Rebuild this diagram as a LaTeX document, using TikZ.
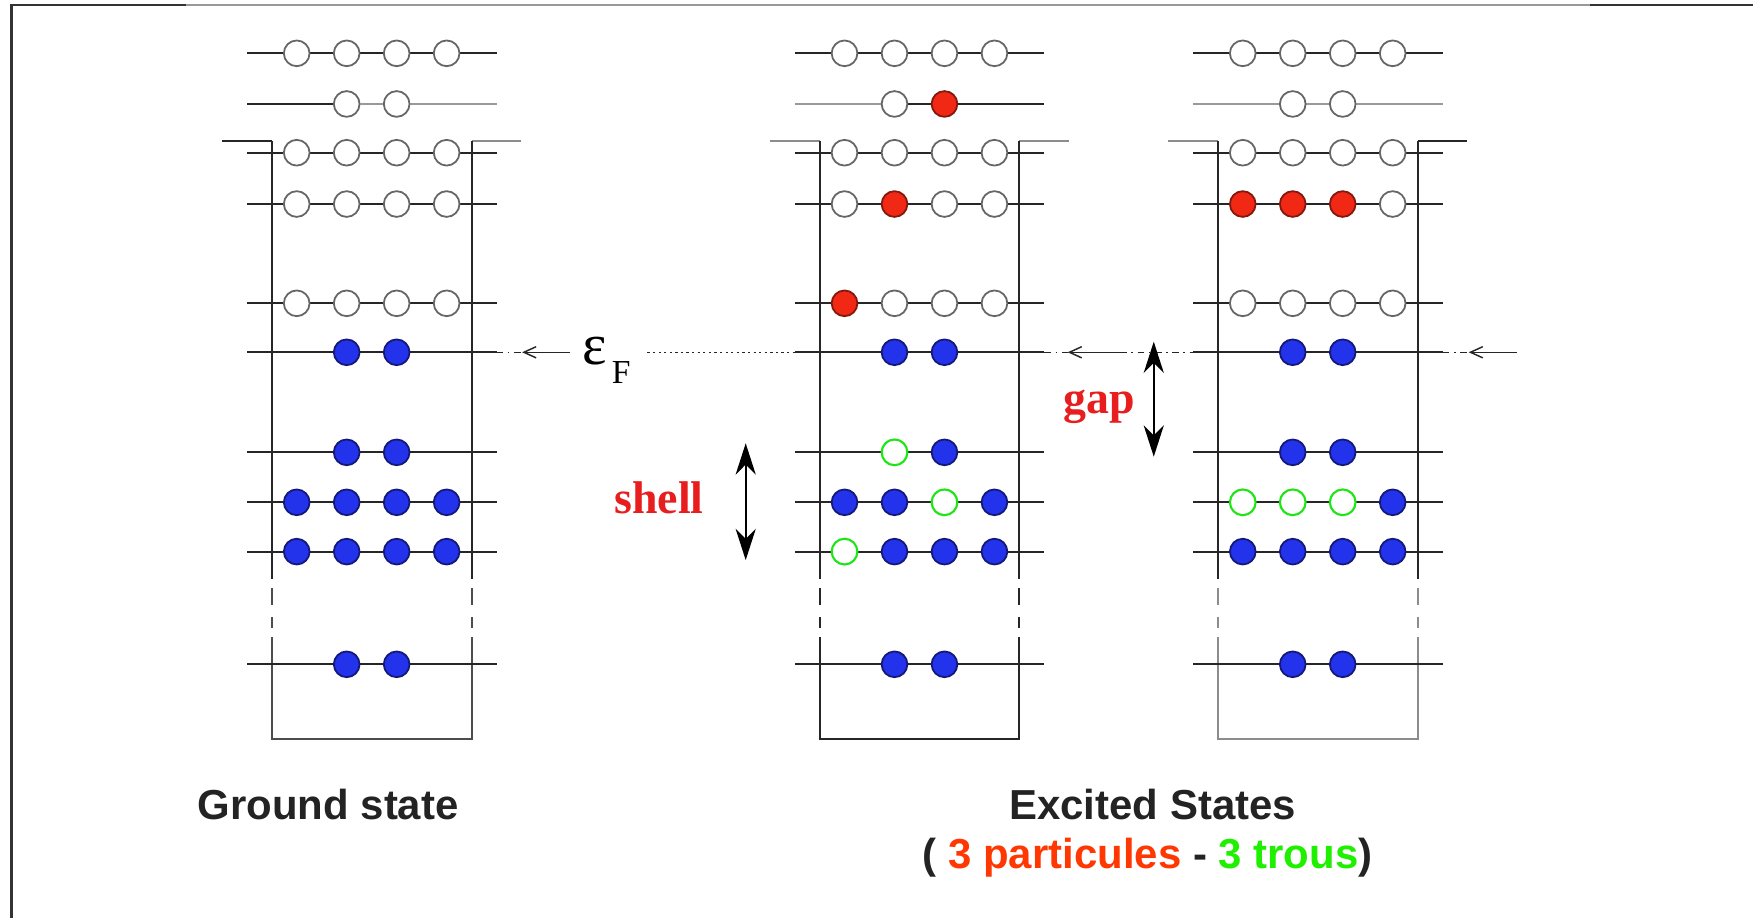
\documentclass[tikz,border=0pt]{standalone}
\usepackage{fontspec}
\setmainfont{Liberation Serif}
\newfontfamily\capfont{Liberation Sans}
\usetikzlibrary{arrows.meta}
\definecolor{bfill}{RGB}{35,50,235}
\definecolor{bdraw}{RGB}{20,25,120}
\definecolor{rfill}{RGB}{240,40,20}
\definecolor{rdraw}{RGB}{130,25,15}
\definecolor{hgreen}{RGB}{30,230,20}
\definecolor{lab}{RGB}{232,30,30}
\definecolor{tred}{RGB}{255,55,0}
\definecolor{tgreen}{RGB}{30,240,0}
\definecolor{dk}{RGB}{35,35,35}
\def\nonemark{n}
\newcommand\dotat[4]{\def\tmpkind{#1}\ifx\tmpkind\nonemark\else\node[#1] (#2) at ({#3},{#4}) {};\fi}
\newcommand\lvl[8]{%
  \draw[#4] ({#2-44.3},#3) -- ({#2+178.8},#3);
  \dotat{#5}{c#1-1}{#2}{#3}%
  \dotat{#6}{c#1-2}{#2+44.7}{#3}%
  \dotat{#7}{c#1-3}{#2+89.4}{#3}%
  \dotat{#8}{c#1-4}{#2+134.1}{#3}%
}
\newcommand\pit[6]{% #1 base x, #2 left ledge style, #3 right ledge style, #4 left wall, #5 right wall, #6 lower part
  \draw[#2] ({#1-66.6},126) -- ({#1-22.3},126);
  \draw[#3] ({#1+156.4},126) -- ({#1+201},126);
  \draw[#4] ({#1-22.3},126) -- ({#1-22.3},518);
  \draw[#5] ({#1+156.4},126) -- ({#1+156.4},518);
  \draw[#6] ({#1-22.3},526) -- ({#1-22.3},541) ({#1-22.3},552) -- ({#1-22.3},562)
            ({#1+156.4},526) -- ({#1+156.4},541) ({#1+156.4},552) -- ({#1+156.4},562);
  \draw[#6] ({#1-22.3},570) -- ({#1-22.3},661.3) -- ({#1+156.4},661.3) -- ({#1+156.4},570);
}
\tikzset{
  lev/.style={draw=black!85, line width=1.7pt},
  levg/.style={draw=black!40, line width=1.7pt},
  wd/.style={draw=black!85, line width=1.7pt},
  wg/.style={draw=black!45, line width=1.7pt},
  elec/.style={circle, inner sep=0pt, minimum size=23pt, line width=1.6pt},
  oc/.style={elec, draw=black!60, fill=white},
  bc/.style={elec, draw=bdraw, fill=bfill},
  rc/.style={elec, draw=rdraw, fill=rfill},
  gc/.style={elec, draw=hgreen, fill=white, line width=1.9pt},
  fdash/.style={line width=1.3pt, draw=black!85, dash pattern=on 6pt off 4pt on 1.5pt off 4pt},
  fdot/.style={line width=1.3pt, draw=black!85, dash pattern=on 2pt off 3pt},
  farrow/.style={line width=1.3pt, draw=black!85, arrows={Straight Barb[length=11pt,width=10pt]-}},
  dbl/.style={line width=1.8pt, arrows={Stealth[length=28pt,width=18pt,inset=9pt]-Stealth[length=28pt,width=18pt,inset=9pt]}},
  lbltxt/.style={font=\fontsize{41}{41}\selectfont\bfseries, text=lab, inner sep=0pt},
  captxt/.style={font=\capfont\fontsize{37.5}{40}\selectfont\bfseries, text=dk, inner sep=0pt}
}
\begin{document}
\begin{tikzpicture}[x=1pt,y=-1pt]
\useasboundingbox (0,0) rectangle (1568,821);
\fill[white] (0,0) rectangle (1568,821);
% frame
\draw[line width=2.5pt, draw=black!80] (10,821) -- (10,4.5) -- (166,4.5);
\draw[line width=1.8pt, draw=black!40] (166,4.5) -- (1422,4.5);
\draw[line width=2.5pt, draw=black!80] (1422,4.5) -- (1568,4.5);
% wells
\pit{265.4}{wd}{wg}{wd}{wd}{black!70, line width=1.7pt}
\pit{755.4}{wg}{wg}{wd}{wd}{wd}
\pit{1111.6}{wg}{wd}{wd}{wd}{wg}
% column 1 : ground state
\lvl{1-1}{265.4}{47.7}{lev}{oc}{oc}{oc}{oc}
\lvl{1-2}{265.4}{93}{lev}{n}{oc}{oc}{n}
\lvl{1-3}{265.4}{136.6}{lev}{oc}{oc}{oc}{oc}
\lvl{1-4}{265.4}{182.5}{lev}{oc}{oc}{oc}{oc}
\lvl{1-5}{265.4}{271.3}{lev}{oc}{oc}{oc}{oc}
\lvl{1-6}{265.4}{315.1}{lev}{n}{bc}{bc}{n}
\lvl{1-7}{265.4}{404.6}{lev}{n}{bc}{bc}{n}
\lvl{1-8}{265.4}{449.3}{lev}{bc}{bc}{bc}{bc}
\lvl{1-9}{265.4}{493.4}{lev}{bc}{bc}{bc}{bc}
\lvl{1-10}{265.4}{594.2}{lev}{n}{bc}{bc}{n}
\draw[levg] (c1-2-2.east) -- (c1-2-3.west) (c1-2-3.east) -- (444.2,93);
% column 2
\lvl{2-1}{755.4}{47.7}{lev}{oc}{oc}{oc}{oc}
\lvl{2-2}{755.4}{93}{levg}{n}{oc}{rc}{n}
\lvl{2-3}{755.4}{136.6}{lev}{oc}{oc}{oc}{oc}
\lvl{2-4}{755.4}{182.5}{lev}{oc}{rc}{oc}{oc}
\lvl{2-5}{755.4}{271.3}{lev}{rc}{oc}{oc}{oc}
\lvl{2-6}{755.4}{315.1}{lev}{n}{bc}{bc}{n}
\lvl{2-7}{755.4}{404.6}{lev}{n}{gc}{bc}{n}
\lvl{2-8}{755.4}{449.3}{lev}{bc}{bc}{gc}{bc}
\lvl{2-9}{755.4}{493.4}{lev}{gc}{bc}{bc}{bc}
\lvl{2-10}{755.4}{594.2}{lev}{n}{bc}{bc}{n}
\draw[lev] (c2-2-2.east) -- (c2-2-3.west) (c2-2-3.east) -- (934.2,93);
% column 3
\lvl{3-1}{1111.6}{47.7}{lev}{oc}{oc}{oc}{oc}
\lvl{3-2}{1111.6}{93}{levg}{n}{oc}{oc}{n}
\lvl{3-3}{1111.6}{136.6}{lev}{oc}{oc}{oc}{oc}
\lvl{3-4}{1111.6}{182.5}{lev}{rc}{rc}{rc}{oc}
\lvl{3-5}{1111.6}{271.3}{lev}{oc}{oc}{oc}{oc}
\lvl{3-6}{1111.6}{315.1}{lev}{n}{bc}{bc}{n}
\lvl{3-7}{1111.6}{404.6}{lev}{n}{bc}{bc}{n}
\lvl{3-8}{1111.6}{449.3}{lev}{gc}{gc}{gc}{bc}
\lvl{3-9}{1111.6}{493.4}{lev}{bc}{bc}{bc}{bc}
\lvl{3-10}{1111.6}{594.2}{lev}{n}{bc}{bc}{n}
% Fermi level
\coordinate (f1) at (444.2,315.1);
\coordinate (f2) at (467,315.1);
\coordinate (f3) at (510,315.1);
\coordinate (f4) at (579,315.1);
\coordinate (f5) at (711.1,315.1);
\coordinate (f6) at (934.2,315.1);
\coordinate (f7) at (955,315.1);
\coordinate (f8) at (1002,315.1);
\coordinate (f9) at (1067.3,315.1);
\coordinate (f10) at (1290.4,315.1);
\coordinate (f11) at (1313.7,315.1);
\coordinate (f12) at (1356.6,315.1);
\draw[fdash] (f1) -- (f2);
\draw[farrow] (f2) -- (f3);
\draw[fdot] (f4) -- (f5);
\draw[fdash] (f6) -- (f7);
\draw[farrow] (f7) -- (f8);
\draw[fdash] (f8) -- (f9);
\draw[fdash] (f10) -- (f11);
\draw[farrow] (f11) -- (f12);
\node[anchor=base west, inner sep=0pt, font=\fontsize{52}{52}\selectfont] (eps) at (521,326) {ε};
\node[anchor=base west, inner sep=0pt, font=\fontsize{30}{30}\selectfont] (epsF) at (547,343) {F};
% gap and shell
\coordinate (gapT) at (1032,305.6);
\coordinate (gapB) at (1032,408.5);
\draw[dbl] (gapT) -- (gapB);
\coordinate (shT) at (667,396.5);
\coordinate (shB) at (667,501);
\draw[dbl] (shT) -- (shB);
\node[lbltxt, anchor=base] (gap) at (983.5,370) {gap};
\node[lbltxt, anchor=base] (shell) at (589.5,459) {shell};
% captions
\node[captxt, anchor=base] (ground) at (293.5,732.6) {Ground state};
\node[captxt, anchor=base] (exc) at (1031,732.7) {Excited States};
\node[captxt, anchor=base] (exc2) at (1026.5,776.6) {( \textcolor{tred}{3 particules} - \textcolor{tgreen}{3 trous})};
\end{tikzpicture}
\end{document}
